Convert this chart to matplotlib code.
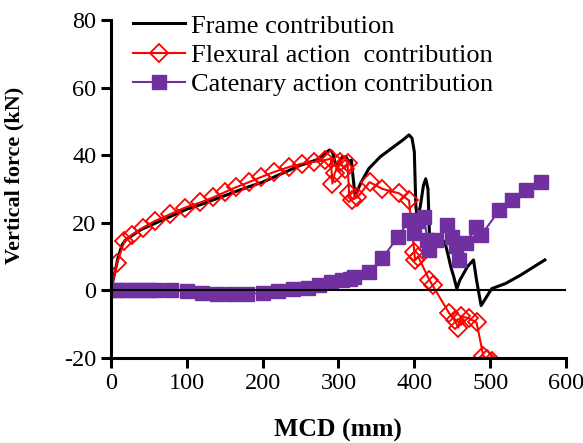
import numpy as np
import matplotlib.pyplot as plt

plt.rcParams['font.family'] = ['Liberation Serif', 'DejaVu Serif']
plt.rcParams['axes.unicode_minus'] = False

# frame contribution (black line)
frame_x = [0, 5, 10, 15, 20, 30, 40, 60, 80, 100, 120, 150, 180, 200, 220, 250, 270, 280,
           288, 292, 296, 300, 305, 310, 314, 317, 320, 322, 330, 340, 355, 370, 385, 393,
           397, 400, 402, 404, 408, 412, 415, 418, 420, 422, 430, 440, 445, 448, 452, 456,
           460, 470, 478, 482, 486, 488, 495, 502, 520, 540, 572]
frame_y = [0, 5, 10, 13.5, 15, 16.5, 18, 20, 22, 24, 25.5, 28, 30.5, 32, 34, 37, 38.5, 40,
           41.5, 41, 37.5, 37, 39.5, 39.5, 38, 38.5, 32, 28, 32, 36, 39.5, 42, 44.5, 46,
           45, 41, 25, 21, 25, 31, 33, 30, 16, 12, 13, 14.5, 10, 7, 4, 0.5,
           3, 7, 9, 3, -2, -4.5, -2, 0.5, 2, 4.5, 9]

# flexural action contribution (red diamonds)
flex_x = [0, 8, 18, 28, 42, 58, 78, 98, 118, 135, 150, 165, 182, 198, 215, 235, 252, 268,
          282, 290, 292, 295, 302, 308, 312, 314, 318, 325, 341, 358, 380, 393, 400, 401,
          405, 420, 424, 446, 453, 458, 462, 472, 482, 491, 496, 502]
flex_y = [0, 8, 14.5, 16.5, 18.5, 20.5, 22.5, 24.5, 26, 27.5, 29, 30.5, 32, 33.5, 35, 36.5,
          37.5, 38, 38.5, 39, 31.6, 34.6, 38, 36, 37.6, 28.7, 26.8, 27.5, 32, 30, 28.7, 26.6,
          11.3, 8.9, 10, 3, 1.5, -6.8, -8.9, -11, -7.7, -8.3, -9.5, -19.5, -20.2, -21]

# catenary action contribution (purple squares)
cat_x = [0, 10, 20, 30, 40, 50, 60, 80, 100, 120, 140, 160, 180, 200, 220, 240, 260, 275,
         290, 305, 315, 320, 340, 358, 378, 393, 400, 405, 413, 417, 420, 429, 443, 450,
         455, 459, 468, 481, 488, 512, 529, 547, 567]
cat_y = [0, 0, 0, 0, 0, 0, 0, 0, -0.3, -0.8, -1, -1.2, -1, -0.8, -0.3, 0.3, 0.8, 1.5,
         2.5, 3, 3.5, 4, 5.3, 9.5, 15.7, 20.7, 17, 20.5, 21.6, 15, 12, 14.8, 19.2, 15.7,
         13, 8.9, 13.9, 18.6, 16.3, 23.7, 26.6, 29.6, 32]

fig = plt.figure(figsize=(5.83, 4.43), dpi=100)
ax = fig.add_axes([0.190, 0.192, 0.781, 0.763])

ax.plot(frame_x, frame_y, color='black', lw=2.2, label='Frame contribution')
ax.plot(flex_x, flex_y, color='#FF0000', lw=1.5, marker='D', markersize=9,
        markerfacecolor='none', markeredgecolor='#FF0000', markeredgewidth=1.3,
        label='Flexural action  contribution')
ax.plot(cat_x, cat_y, color='#7030A0', lw=1.5, marker='s', markersize=10,
        markerfacecolor='#7030A0', markeredgecolor='#7030A0',
        label='Catenary action contribution')
ax.axhline(0, color='black', lw=1.5, zorder=5)

ax.set_xlim(0, 600)
ax.set_ylim(-20, 80)
ax.set_xticks(np.arange(0, 601, 100))
ax.set_yticks(np.arange(-20, 81, 20))
for s in ['top', 'right']:
    ax.spines[s].set_visible(False)
for s in ['left', 'bottom']:
    ax.spines[s].set_linewidth(2.2)
ax.tick_params(direction='out', length=7, width=2.2, labelsize=17.5)
ax.set_xlabel('MCD (mm)', fontsize=18.5, fontweight='bold')
ax.set_ylabel('Vertical force (kN)', fontsize=16, fontweight='bold')
ax.xaxis.set_label_coords(0.5, -0.18)
ax.yaxis.set_label_coords(-0.19, 0.54)

ax.legend(loc='upper left', bbox_to_anchor=(0.048, 1.017), frameon=False, fontsize=19,
          handlelength=2.0, handletextpad=0.2, labelspacing=0.22, borderaxespad=0,
          borderpad=0)

fig.savefig('out.png', dpi=100)
